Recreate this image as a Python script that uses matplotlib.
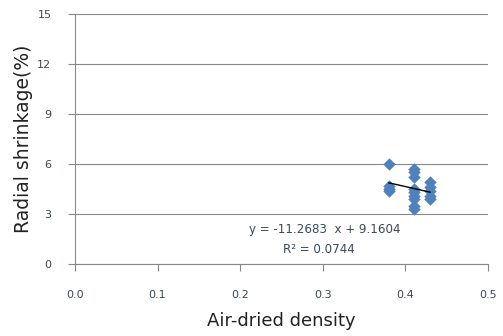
import matplotlib
matplotlib.use("Agg")
import matplotlib.pyplot as plt
import numpy as np

x_vals = [0.38, 0.38, 0.38, 0.38,
          0.41, 0.41, 0.41, 0.41, 0.41, 0.41, 0.41, 0.41, 0.41,
          0.43, 0.43, 0.43, 0.43, 0.43]
y_vals = [6.0, 4.7, 4.5, 4.4,
          5.7, 5.5, 5.2, 4.5, 4.3, 4.1, 3.9, 3.5, 3.3,
          4.9, 4.6, 4.4, 4.1, 3.9]
slope = -11.2683
intercept = 9.1604
r2 = 0.0744
x_ticks = [0.0, 0.1, 0.2, 0.3, 0.4, 0.5]
y_ticks = [0, 3, 6, 9, 12, 15]

fig = plt.figure(figsize=(5.03, 3.36), dpi=100)
ax = fig.add_axes([0.149, 0.214, 0.821, 0.744])

ax.scatter(x_vals, y_vals, marker='D', s=40, color='#4F81BD', zorder=3, linewidths=0)
xl = np.array([min(x_vals), max(x_vals)])
ax.plot(xl, slope * xl + intercept, color='black', lw=1, zorder=4)

ax.set_xlim(0, 0.5)
ax.set_ylim(0, 15)
ax.set_xticks(x_ticks)
ax.set_yticks(y_ticks)
ax.set_xticklabels([f"{v:.1f}" for v in x_ticks])
ax.set_yticklabels([str(v) for v in y_ticks])
ax.yaxis.grid(True, color='#888888', lw=0.8)
ax.set_axisbelow(True)
for s in ['top', 'right']:
    ax.spines[s].set_visible(False)
for s in ['left', 'bottom']:
    ax.spines[s].set_color('#888888')
ax.tick_params(axis='both', colors='#888888', labelcolor='#3a4a5a', labelsize=8, length=5, width=0.8)
ax.tick_params(axis='x', pad=14)
ax.tick_params(axis='y', pad=12)

ax.set_xlabel('Air-dried density', fontsize=13, color='#222222', labelpad=8)
ax.set_ylabel('Radial shrinkage(%)', fontsize=13.5, color='#222222', labelpad=3)

ax.text(0.303, 2.1, f"y = {slope}  x + {intercept}", fontsize=8.6, color='#3a4a5a', ha='center', va='center')
ax.text(0.295, 0.85, f"R² = {r2}", fontsize=8.6, color='#3a4a5a', ha='center', va='center')

fig.savefig('out.png', dpi=100)
